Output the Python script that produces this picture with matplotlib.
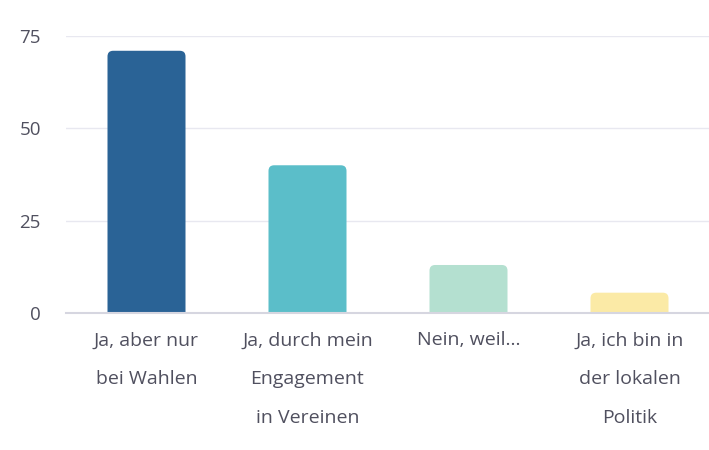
import numpy as np
import matplotlib.pyplot as plt
from matplotlib.patches import FancyBboxPatch

categories = ['Ja, aber nur\nbei Wahlen', 'Ja, durch mein\nEngagement\nin Vereinen',
              'Nein, weil...', 'Ja, ich bin in\nder lokalen\nPolitik']
values = [71, 40, 13, 5.5]
colors = ['#2a6396', '#5bbec9', '#b4e0d0', '#fbeaa6']
yticks = [0, 25, 50, 75]

plt.rcParams['font.family'] = ['Open Sans', 'DejaVu Sans']
text_col = '#50505f'

fig = plt.figure(figsize=(7.09, 4.5), dpi=100)
ax = fig.add_axes([66/709, 1-313/450, 644/709, 277/450])
ax.set_xlim(-0.5, 3.5)
ax.set_ylim(0, 75)

# grid lines
for t in yticks[1:]:
    ax.axhline(t, color='#e8e8f0', linewidth=1, zorder=0)
ax.axhline(0, color='#d6d6e0', linewidth=1.5, zorder=3, clip_on=False)

w = 78/161
asp = (75/277) * 161
for i, (v, c) in enumerate(zip(values, colors)):
    p = FancyBboxPatch((i - w/2, -3), w, v + 3,
                       boxstyle='round,pad=0,rounding_size=0.035',
                       mutation_aspect=asp, facecolor=c, edgecolor='none', zorder=2)
    ax.add_patch(p)

for s in ax.spines.values():
    s.set_visible(False)
ax.set_xticks([])
ax.set_yticks(yticks)
ax.tick_params(axis='y', length=0, pad=18, labelsize=13.5, labelcolor=text_col)

for i, lab in enumerate(categories):
    ax.text(i, -5.0, lab, ha='center', va='top', fontsize=14, color=text_col,
            linespacing=2.5)

fig.savefig('out.png', dpi=100)
